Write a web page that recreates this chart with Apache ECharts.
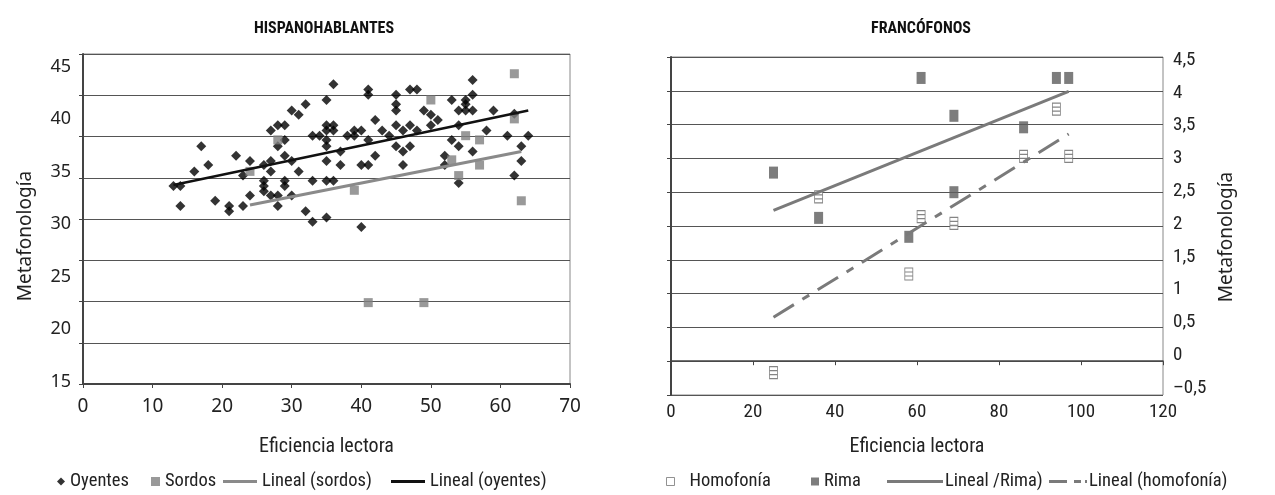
<!DOCTYPE html>
<html><head><meta charset="utf-8">
<script src="https://cdn.jsdelivr.net/npm/echarts@6/dist/echarts.min.js"></script>
<style>html,body{margin:0;padding:0;background:#fff}#c{width:1275px;height:495px}</style>
</head><body><div id="c"></div>
<script>
// ---------- HISPANOHABLANTES ----------
const oyentesX = [13,14,14,16,17,18,19,21,21,22,23,23,24,24,26,26,26,26,27,27,27,27,28,28,28,28,29,29,29,29,29,30,30,30,31,31,32,32,33,33,33,34,35,35,35,35,35,35,35,35,36,36,36,36,37,37,38,39,39,40,40,40,41,41,41,41,42,42,43,44,45,45,45,45,45,46,46,46,47,47,47,48,48,49,50,50,51,52,52,53,53,54,54,54,54,55,55,55,56,56,56,56,58,59,61,62,62,63,63,64];
const oyentesY = [33.6,33.6,31.7,35.0,37.4,35.6,32.2,31.7,31.2,36.5,34.6,31.7,36.0,32.7,35.6,34.1,33.6,33.1,38.9,36.0,35.0,32.7,39.4,37.4,32.7,31.7,39.4,38.0,36.5,34.1,33.6,40.8,36.0,32.7,40.4,35.0,41.4,31.2,38.4,34.1,30.2,38.4,41.8,39.4,38.9,38.0,37.4,36.0,34.1,30.6,43.3,39.4,38.9,34.1,36.9,35.6,38.4,38.9,38.4,38.9,35.6,29.7,42.8,42.3,38.0,35.6,39.9,36.5,38.9,38.4,42.3,41.4,40.8,39.4,37.4,38.9,36.9,35.6,42.8,39.4,37.4,42.8,38.9,40.8,40.4,39.4,39.9,36.5,35.6,41.8,38.0,40.8,39.4,37.4,33.9,41.8,41.4,40.8,43.7,42.3,40.8,36.9,38.9,40.8,38.4,40.5,34.6,37.4,36.0,38.4];
const sordosX = [62,50,62,55,57,53,57,54,39,63,28,24,41,49];
const sordosY = [44.3,41.8,40.0,38.4,38.0,36.1,35.6,34.6,33.2,32.2,38.0,35.0,22.5,22.5];
const linSordosX = [24,63];
const linSordosY = [31.8,36.9];
const linOyentesX = [13,64];
const linOyentesY = [33.7,40.8];
const leftYTicks = [15,20,25,30,35,40,45];

// ---------- FRANCÓFONOS ----------
const homoX = [25,36,58,61,69,86,94,97];
const homoY = [-0.17,2.43,1.29,2.14,2.04,3.03,3.73,3.03];
const rimaX = [25,36,58,61,69,69,86,94,97];
const rimaY = [2.79,2.12,1.84,4.19,3.63,2.5,3.46,4.19,4.19];
const linRimaX = [25,97];
const linRimaY = [2.23,3.99];
const linHomoX = [25,97];
const linHomoY = [0.65,3.36];
const rightYTicks = [-0.5,0,0.5,1,1.5,2,2.5,3,3.5,4,4.5];

const zip = (a,b) => a.map((v,i)=>[v,b[i]]);
const NARROW = '"Liberation Sans Narrow","Roboto Condensed","Arial Narrow",sans-serif';
const REG = '"Noto Sans","Open Sans",sans-serif';
const AX = '#444';
const LEG_TXT = {fontFamily:NARROW, fontSize:18.5, color:'#222'};

const chart = echarts.init(document.getElementById('c'), null, {renderer:'canvas'});
chart.setOption({
  animation:false,
  backgroundColor:'#fff',
  title:[
    {text:'HISPANOHABLANTES', left:319, top:16, textAlign:'center',
     textStyle:{fontFamily:NARROW, fontWeight:'bold', fontSize:16, color:'#111'}},
    {text:'FRANCÓFONOS', left:916, top:16, textAlign:'center',
     textStyle:{fontFamily:NARROW, fontWeight:'bold', fontSize:16, color:'#111'}}
  ],
  grid:[
    {left:83, top:54, width:487, height:330, show:true, borderColor:'#888', borderWidth:1, containLabel:false},
    {left:671, top:57, width:492, height:338, show:true, borderColor:'#888', borderWidth:1, containLabel:false}
  ],
  xAxis:[
    {gridIndex:0, type:'value', min:0, max:70, interval:10,
     axisLine:{onZero:false, lineStyle:{color:AX, width:2}},
     axisTick:{show:true, length:4, lineStyle:{color:AX}},
     axisLabel:{fontFamily:REG, fontSize:19, color:'#222', margin:13},
     splitLine:{show:false},
     name:'Eficiencia lectora', nameLocation:'middle', nameGap:53,
     nameTextStyle:{fontFamily:NARROW, fontSize:20, color:'#222'}},
    {gridIndex:1, type:'value', min:0, max:120, interval:20,
     axisLine:{onZero:true, onZeroAxisIndex:2, lineStyle:{color:AX, width:1.5}},
     axisTick:{show:true, length:4, lineStyle:{color:AX}},
     axisLabel:{show:false}, splitLine:{show:false}},
    {gridIndex:1, type:'value', min:0, max:120, interval:20, position:'bottom',
     axisLine:{show:false, onZero:false}, axisTick:{show:false},
     axisLabel:{fontFamily:NARROW, fontSize:19, color:'#222', margin:8},
     splitLine:{show:false},
     name:'Eficiencia lectora', nameLocation:'middle', nameGap:42,
     nameTextStyle:{fontFamily:NARROW, fontSize:20, color:'#222'}}
  ],
  yAxis:[
    {gridIndex:0, type:'value', min:15, max:45, interval:3.75, position:'left',
     axisLine:{show:true, onZero:false, lineStyle:{color:AX, width:2}},
     axisTick:{show:true, length:4, lineStyle:{color:AX}},
     axisLabel:{show:false},
     splitLine:{show:true, lineStyle:{color:'#555', width:1}}},
    {gridIndex:0, type:'value', min:14.75, max:46.18, position:'left',
     axisLine:{show:false, onZero:false}, axisTick:{show:false}, splitLine:{show:false},
     axisLabel:{customValues:leftYTicks, fontFamily:REG, fontSize:18, color:'#222', margin:12},
     name:'Metafonología', nameLocation:'middle', nameRotate:90, nameGap:48,
     nameTextStyle:{fontFamily:REG, fontSize:19, color:'#222', padding:[0,34,0,0]}},
    {gridIndex:1, type:'value', min:-0.5, max:4.5, interval:0.5, position:'left',
     axisLine:{show:true, onZero:false, lineStyle:{color:AX, width:2}},
     axisTick:{show:true, length:4, lineStyle:{color:AX}},
     axisLabel:{show:false},
     splitLine:{show:true, lineStyle:{color:'#555', width:1}}},
    {gridIndex:1, type:'value', min:-0.607, max:4.546, position:'right',
     axisLine:{show:false, onZero:false}, axisTick:{show:false}, splitLine:{show:false},
     axisLabel:{customValues:rightYTicks, fontFamily:NARROW, fontSize:19, color:'#222', margin:10,
       formatter:v=>String(v).replace('.',',').replace('-','\u2013')},
     name:'Metafonología', nameLocation:'middle', nameRotate:90, nameGap:54,
     nameTextStyle:{fontFamily:REG, fontSize:19, color:'#222', padding:[0,22,0,0]}}
  ],
  legend:[
    {data:['Oyentes'], left:52, top:467, icon:'diamond', itemWidth:8, itemHeight:8, textStyle:LEG_TXT},
    {data:['Sordos'], left:146, top:467, icon:'rect', itemWidth:9, itemHeight:9, textStyle:LEG_TXT},
    {data:[{name:'Lineal (sordos)', icon:'rect'}], left:218, top:467, itemWidth:34, itemHeight:3, textStyle:LEG_TXT},
    {data:[{name:'Lineal (oyentes)', icon:'rect'}], left:386, top:467, itemWidth:34, itemHeight:3, textStyle:LEG_TXT},
    {data:[{name:'Homofonía', icon:'rect', itemStyle:{color:'#fff', borderColor:'#777', borderWidth:1}}],
     left:661, top:467, itemWidth:8, itemHeight:8,
     textStyle:Object.assign({}, LEG_TXT, {padding:[0,0,0,10]})},
    {data:[{name:'Rima', icon:'rect'}], left:806, top:467, itemWidth:8, itemHeight:8, textStyle:LEG_TXT},
    {data:[{name:'Lineal /Rima)', icon:'rect'}], left:882, top:467, itemWidth:56, itemHeight:3,
     textStyle:Object.assign({}, LEG_TXT, {padding:[0,0,0,-3]})},
    {data:[{name:'Lineal (homofonía)', icon:'path://M0,0H18V3H0Z M25,0H32V3H25Z M36,0H38V3H36Z'}],
     left:1044, top:467, itemWidth:38, itemHeight:3,
     textStyle:Object.assign({}, LEG_TXT, {padding:[0,0,0,-3]})}
  ],
  series:[
    {name:'Oyentes', type:'scatter', xAxisIndex:0, yAxisIndex:1, data:zip(oyentesX,oyentesY),
     symbol:'diamond', symbolSize:10, itemStyle:{color:'#000'}, z:3},
    {name:'Sordos', type:'scatter', xAxisIndex:0, yAxisIndex:1, data:zip(sordosX,sordosY),
     symbol:'rect', symbolSize:9, itemStyle:{color:'#7f7f7f'}, z:4},
    {name:'Lineal (sordos)', type:'line', xAxisIndex:0, yAxisIndex:1, data:zip(linSordosX,linSordosY),
     symbol:'none', lineStyle:{color:'#8a8a8a', width:3}, itemStyle:{color:'#8a8a8a'}, z:5},
    {name:'Lineal (oyentes)', type:'line', xAxisIndex:0, yAxisIndex:1, data:zip(linOyentesX,linOyentesY),
     symbol:'none', lineStyle:{color:'#111', width:2.5}, itemStyle:{color:'#111'}, z:5},
    {name:'Homofonía', type:'scatter', xAxisIndex:1, yAxisIndex:2, data:zip(homoX,homoY),
     symbol:'path://M0,0H8V12H0Z M0,4H8 M0,8H8', symbolSize:[8,12],
     itemStyle:{color:'#fff', borderColor:'#666', borderWidth:1}, z:3},
    {name:'Rima', type:'scatter', xAxisIndex:1, yAxisIndex:2, data:zip(rimaX,rimaY),
     symbol:'rect', symbolSize:[9,12], itemStyle:{color:'#5c5c5c'}, z:3},
    {name:'Lineal /Rima)', type:'line', xAxisIndex:1, yAxisIndex:2, data:zip(linRimaX,linRimaY),
     symbol:'none', lineStyle:{color:'#7a7a7a', width:3}, itemStyle:{color:'#7a7a7a'}, z:5},
    {name:'Lineal (homofonía)', type:'line', xAxisIndex:1, yAxisIndex:2, data:zip(linHomoX,linHomoY),
     symbol:'none', lineStyle:{color:'#7a7a7a', width:3, type:[24,10,8,10]}, itemStyle:{color:'#7a7a7a'}, z:5}
  ]
});
</script></body></html>
